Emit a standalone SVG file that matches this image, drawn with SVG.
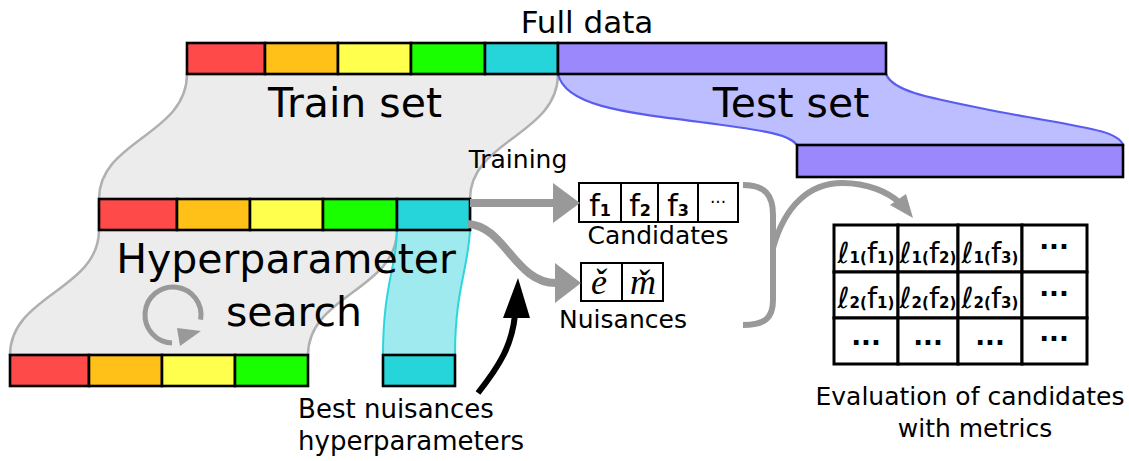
<svg xmlns="http://www.w3.org/2000/svg" width="1129" height="461" viewBox="0 0 1129 461">
<style>
text{font-family:"DejaVu Sans",Verdana,sans-serif;fill:#000}
.big{font-size:41px}
.lbl{font-size:25px}
.bar{stroke:#000;stroke-width:2.6}
.r{fill:#ff4a4a}.o{fill:#ffc017}.y{fill:#ffff4d}.g{fill:#1aff00}.c{fill:#26d5da}.p{fill:#9b88fd}
.cell{fill:#fff;stroke:#000;stroke-width:2}
.tcell{fill:#fff;stroke:#000;stroke-width:3}
.gl{fill:none;stroke:#999;stroke-width:8}
.gh{fill:#999}
.sub{font-size:16px;font-weight:bold}
.tsub{font-size:15px;font-weight:bold}
.ct{font-size:30px;text-anchor:middle}
.tt{font-size:29px;text-anchor:middle}
.dots{font-weight:bold;text-anchor:middle}
.ser{font-family:"Liberation Serif","Times New Roman",serif;font-style:italic;font-size:36px;text-anchor:middle}
</style>
<g id="regions">
<path d="M187,74 L558,74 C558,135 470,140 470,199 L470,230 L397,230 C397,290 308,295 308,355 L10,355 C10,295 99,290 99,230 L99,199 C99,140 187,135 187,74 Z" fill="#ececec" stroke="#b0b0b0" stroke-width="2.5"/>
<path d="M558,74 L886,74 C893,92 930,98 1000,112 C1080,127 1118,130 1123,145 L797,145 C790,135 770,131 700,122 C620,112 565,105 558,74 Z" fill="#bcbeff" stroke="#5a5cf0" stroke-width="2.2"/>
<path d="M397,230 L470,230 C468,270 455,290 455,355 L383,355 C383,285 397,265 397,230 Z" fill="#9eeaee" stroke="#2bd6dc" stroke-width="2"/>
</g>
<g id="full-data">
<rect class="bar r" x="187" y="43" width="78" height="31"/>
<rect class="bar o" x="265" y="43" width="73" height="31"/>
<rect class="bar y" x="338" y="43" width="73" height="31"/>
<rect class="bar g" x="411" y="43" width="74" height="31"/>
<rect class="bar c" x="485" y="43" width="73" height="31"/>
<rect class="bar p" x="558" y="43" width="328" height="31"/>
<text x="587" y="33" font-size="31" text-anchor="middle">Full data</text>
</g>
<g id="train-set">
<text class="big" x="355" y="117" text-anchor="middle">Train set</text>
<rect class="bar r" x="99" y="199" width="78" height="31"/>
<rect class="bar o" x="177" y="199" width="73" height="31"/>
<rect class="bar y" x="250" y="199" width="73" height="31"/>
<rect class="bar g" x="323" y="199" width="74" height="31"/>
<rect class="bar c" x="397" y="199" width="73" height="31"/>
</g>
<g id="test-set">
<text class="big" x="791" y="117" text-anchor="middle">Test set</text>
<rect class="bar p" x="797" y="145" width="326" height="32"/>
</g>
<g id="hyper-search">
<text class="big" x="286" y="273" text-anchor="middle">Hyperparameter</text>
<text class="big" x="294" y="326" text-anchor="middle">search</text>
<path d="M200.6,319.7 A28,28 0 1 0 172,343" fill="none" stroke="#999" stroke-width="5"/>
<polygon points="177,328 201,331 180,346" fill="#999"/>
<rect class="bar r" x="10" y="355" width="79" height="31"/>
<rect class="bar o" x="89" y="355" width="73" height="31"/>
<rect class="bar y" x="162" y="355" width="73" height="31"/>
<rect class="bar g" x="235" y="355" width="73" height="31"/>
<rect class="bar c" x="383" y="355" width="72" height="31"/>
</g>
<g id="candidates">
<rect class="cell" x="579" y="183" width="42" height="39"/>
<rect class="cell" x="621" y="183" width="37" height="39"/>
<rect class="cell" x="658" y="183" width="40" height="39"/>
<rect class="cell" x="698" y="183" width="40" height="39"/>
<text class="ct" x="600" y="216">f<tspan class="sub">1</tspan></text>
<text class="ct" x="640" y="216">f<tspan class="sub">2</tspan></text>
<text class="ct" x="678" y="216">f<tspan class="sub">3</tspan></text>
<text x="718" y="208" font-size="17" text-anchor="middle">···</text>
<text class="lbl" x="658" y="244" text-anchor="middle">Candidates</text>
</g>
<g id="nuisances">
<rect class="cell" x="581" y="263" width="41" height="38"/>
<rect class="cell" x="622" y="263" width="41" height="38"/>
<text class="ser" x="599" y="294">ě</text>
<text class="ser" x="643" y="294">m̌</text>
<text class="lbl" x="623" y="328" text-anchor="middle">Nuisances</text>
</g>
<g id="evaluation">
<rect class="tcell" x="834" y="225" width="64" height="47"/>
<rect class="tcell" x="898" y="225" width="60" height="47"/>
<rect class="tcell" x="958" y="225" width="64" height="47"/>
<rect class="tcell" x="1022" y="225" width="65" height="47"/>
<rect class="tcell" x="834" y="272" width="64" height="46"/>
<rect class="tcell" x="898" y="272" width="60" height="46"/>
<rect class="tcell" x="958" y="272" width="64" height="46"/>
<rect class="tcell" x="1022" y="272" width="65" height="46"/>
<rect class="tcell" x="834" y="318" width="64" height="46"/>
<rect class="tcell" x="898" y="318" width="60" height="46"/>
<rect class="tcell" x="958" y="318" width="64" height="46"/>
<rect class="tcell" x="1022" y="318" width="65" height="46"/>
<text class="tt" x="866" y="263">ℓ<tspan class="tsub">1(</tspan>f<tspan class="tsub">1)</tspan></text>
<text class="tt" x="928" y="263">ℓ<tspan class="tsub">1(</tspan>f<tspan class="tsub">2)</tspan></text>
<text class="tt" x="990" y="263">ℓ<tspan class="tsub">1(</tspan>f<tspan class="tsub">3)</tspan></text>
<text class="tt" x="866" y="308">ℓ<tspan class="tsub">2(</tspan>f<tspan class="tsub">1)</tspan></text>
<text class="tt" x="928" y="308">ℓ<tspan class="tsub">2(</tspan>f<tspan class="tsub">2)</tspan></text>
<text class="tt" x="990" y="308">ℓ<tspan class="tsub">2(</tspan>f<tspan class="tsub">3)</tspan></text>
<text class="dots" x="1054" y="256" font-size="26">···</text>
<text class="dots" x="1054" y="303" font-size="26">···</text>
<text class="dots" x="1054" y="348" font-size="26">···</text>
<text class="dots" x="866" y="352" font-size="26">···</text>
<text class="dots" x="928" y="352" font-size="26">···</text>
<text class="dots" x="990" y="352" font-size="26">···</text>
<text class="lbl" x="970" y="405" text-anchor="middle">Evaluation of candidates</text>
<text class="lbl" x="975" y="437" text-anchor="middle">with metrics</text>
</g>
<g id="labels">
<text class="lbl" x="518" y="168" text-anchor="middle">Training</text>
<text x="396" y="418" font-size="26" text-anchor="middle">Best nuisances</text>
<text x="411" y="450" font-size="26" text-anchor="middle">hyperparameters</text>
</g>
<g id="connectors">
<path class="gl" d="M470,203 L556,203"/>
<polygon class="gh" points="553,183 580,203 553,223"/>
<path class="gl" d="M468,224 C505,226 515,283 556,283"/>
<polygon class="gh" points="555,263 581,283 555,303"/>
<path d="M743,185 C765,185 773,195 773,215 L773,300 C773,318 765,325 743,325" fill="none" stroke="#999" stroke-width="6"/>
<path d="M773,248 C785,205 810,183 842,183 C868,183 888,192 900,203" fill="none" stroke="#999" stroke-width="6"/>
<polygon class="gh" points="890,205 913,218 906,194"/>
<path d="M478,393 C500,365 512,345 515,315" fill="none" stroke="#000" stroke-width="6"/>
<polygon points="503,318 518,278 530,318" fill="#000"/>
</g>
</svg>
